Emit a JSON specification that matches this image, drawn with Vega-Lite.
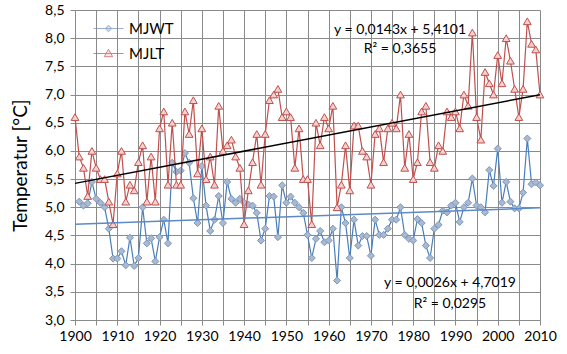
{
  "$schema": "https://vega.github.io/schema/vega-lite/v6.json",
  "width": 465,
  "height": 310,
  "autosize": {"type": "none"},
  "padding": {"left": 75, "top": 10, "right": 27, "bottom": 34},
  "background": "white",
  "config": {
    "font": "Lato",
    "view": {"stroke": null},
    "axis": {
      "gridColor": "#8a8a8a",
      "gridWidth": 1,
      "tickColor": "#8a8a8a",
      "domainColor": "#8a8a8a",
      "tickSize": 5,
      "labelColor": "black",
      "labelFontSize": 14,
      "labelFont": "Lato",
      "titleFont": "Lato",
      "titleColor": "black",
      "titleFontWeight": "normal"
    }
  },
  "datasets": {
    "temps": [
      {"year": 1900, "MJWT": null, "MJLT": 6.6},
      {"year": 1901, "MJWT": 5.1, "MJLT": 5.9},
      {"year": 1902, "MJWT": 5.03, "MJLT": 5.7},
      {"year": 1903, "MJWT": 5.07, "MJLT": 5.2},
      {"year": 1904, "MJWT": 5.45, "MJLT": 6.0},
      {"year": 1905, "MJWT": 5.15, "MJLT": 5.7},
      {"year": 1906, "MJWT": 5.08, "MJLT": 5.5},
      {"year": 1907, "MJWT": 5.0, "MJLT": 5.5},
      {"year": 1908, "MJWT": 4.62, "MJLT": 5.1},
      {"year": 1909, "MJWT": 4.09, "MJLT": 4.7},
      {"year": 1910, "MJWT": 4.09, "MJLT": 5.6},
      {"year": 1911, "MJWT": 4.22, "MJLT": 6.0},
      {"year": 1912, "MJWT": 3.97, "MJLT": 5.1},
      {"year": 1913, "MJWT": 4.46, "MJLT": 5.4},
      {"year": 1914, "MJWT": 3.96, "MJLT": 5.3},
      {"year": 1915, "MJWT": 4.1, "MJLT": 5.8},
      {"year": 1916, "MJWT": 5.0, "MJLT": 6.1},
      {"year": 1917, "MJWT": 4.36, "MJLT": 5.1},
      {"year": 1918, "MJWT": 4.45, "MJLT": 5.9},
      {"year": 1919, "MJWT": 4.04, "MJLT": 5.1},
      {"year": 1920, "MJWT": 4.47, "MJLT": 6.4},
      {"year": 1921, "MJWT": 4.78, "MJLT": 6.7},
      {"year": 1922, "MJWT": 4.36, "MJLT": 5.4},
      {"year": 1923, "MJWT": 5.79, "MJLT": 6.5},
      {"year": 1924, "MJWT": 5.63, "MJLT": 5.4},
      {"year": 1925, "MJWT": 5.65, "MJLT": 5.4},
      {"year": 1926, "MJWT": 5.96, "MJLT": 6.7},
      {"year": 1927, "MJWT": 5.79, "MJLT": 6.3},
      {"year": 1928, "MJWT": 5.16, "MJLT": 6.9},
      {"year": 1929, "MJWT": 4.72, "MJLT": 5.6},
      {"year": 1930, "MJWT": 5.73, "MJLT": 6.4},
      {"year": 1931, "MJWT": 5.03, "MJLT": 5.5},
      {"year": 1932, "MJWT": 4.58, "MJLT": 5.9},
      {"year": 1933, "MJWT": 4.78, "MJLT": 5.4},
      {"year": 1934, "MJWT": 5.2, "MJLT": 6.8},
      {"year": 1935, "MJWT": 4.72, "MJLT": 6.0},
      {"year": 1936, "MJWT": 5.45, "MJLT": 6.1},
      {"year": 1937, "MJWT": 5.15, "MJLT": 6.2},
      {"year": 1938, "MJWT": 5.08, "MJLT": 5.9},
      {"year": 1939, "MJWT": 5.15, "MJLT": 5.7},
      {"year": 1940, "MJWT": 5.08, "MJLT": 4.7},
      {"year": 1941, "MJWT": 5.05, "MJLT": 5.3},
      {"year": 1942, "MJWT": 5.03, "MJLT": 5.8},
      {"year": 1943, "MJWT": 4.9, "MJLT": 6.3},
      {"year": 1944, "MJWT": 4.41, "MJLT": 5.4},
      {"year": 1945, "MJWT": 4.62, "MJLT": 6.3},
      {"year": 1946, "MJWT": 5.2, "MJLT": 6.9},
      {"year": 1947, "MJWT": 5.19, "MJLT": 7.0},
      {"year": 1948, "MJWT": 4.47, "MJLT": 7.1},
      {"year": 1949, "MJWT": 5.39, "MJLT": 6.6},
      {"year": 1950, "MJWT": 5.08, "MJLT": 6.7},
      {"year": 1951, "MJWT": 5.19, "MJLT": 6.6},
      {"year": 1952, "MJWT": 5.08, "MJLT": 5.7},
      {"year": 1953, "MJWT": 5.0, "MJLT": 6.4},
      {"year": 1954, "MJWT": 4.9, "MJLT": 5.5},
      {"year": 1955, "MJWT": 4.51, "MJLT": 5.5},
      {"year": 1956, "MJWT": 4.1, "MJLT": 4.7},
      {"year": 1957, "MJWT": 4.44, "MJLT": 6.5},
      {"year": 1958, "MJWT": 4.58, "MJLT": 6.1},
      {"year": 1959, "MJWT": 4.38, "MJLT": 6.6},
      {"year": 1960, "MJWT": 4.41, "MJLT": 6.4},
      {"year": 1961, "MJWT": 4.62, "MJLT": 6.8},
      {"year": 1962, "MJWT": 3.7, "MJLT": 5.0},
      {"year": 1963, "MJWT": 5.0, "MJLT": 5.4},
      {"year": 1964, "MJWT": 4.72, "MJLT": 6.1},
      {"year": 1965, "MJWT": 4.1, "MJLT": 5.3},
      {"year": 1966, "MJWT": 4.78, "MJLT": 6.45},
      {"year": 1967, "MJWT": 4.32, "MJLT": 6.45},
      {"year": 1968, "MJWT": 4.49, "MJLT": 6.0},
      {"year": 1969, "MJWT": 4.49, "MJLT": 5.9},
      {"year": 1970, "MJWT": 4.14, "MJLT": 5.4},
      {"year": 1971, "MJWT": 4.78, "MJLT": 6.3},
      {"year": 1972, "MJWT": 4.51, "MJLT": 6.4},
      {"year": 1973, "MJWT": 4.51, "MJLT": 5.8},
      {"year": 1974, "MJWT": 4.62, "MJLT": 6.4},
      {"year": 1975, "MJWT": 4.78, "MJLT": 6.5},
      {"year": 1976, "MJWT": 4.78, "MJLT": 6.4},
      {"year": 1977, "MJWT": 5.0, "MJLT": 7.0},
      {"year": 1978, "MJWT": 4.51, "MJLT": 5.7},
      {"year": 1979, "MJWT": 4.44, "MJLT": 6.3},
      {"year": 1980, "MJWT": 4.41, "MJLT": 5.5},
      {"year": 1981, "MJWT": 4.79, "MJLT": 5.8},
      {"year": 1982, "MJWT": 4.72, "MJLT": 6.7},
      {"year": 1983, "MJWT": 4.32, "MJLT": 6.8},
      {"year": 1984, "MJWT": 4.1, "MJLT": 5.8},
      {"year": 1985, "MJWT": 4.62, "MJLT": 5.7},
      {"year": 1986, "MJWT": 4.69, "MJLT": 6.1},
      {"year": 1987, "MJWT": 4.94, "MJLT": 6.0},
      {"year": 1988, "MJWT": 4.91, "MJLT": 6.7},
      {"year": 1989, "MJWT": 5.03, "MJLT": 6.6},
      {"year": 1990, "MJWT": 5.08, "MJLT": 6.7},
      {"year": 1991, "MJWT": 4.74, "MJLT": 6.4},
      {"year": 1992, "MJWT": 5.0, "MJLT": 7.0},
      {"year": 1993, "MJWT": 5.08, "MJLT": 6.8},
      {"year": 1994, "MJWT": 5.51, "MJLT": 8.1},
      {"year": 1995, "MJWT": 5.03, "MJLT": 6.6},
      {"year": 1996, "MJWT": 5.0, "MJLT": 6.2},
      {"year": 1997, "MJWT": 4.91, "MJLT": 7.4},
      {"year": 1998, "MJWT": 5.66, "MJLT": 7.2},
      {"year": 1999, "MJWT": 5.38, "MJLT": 7.0},
      {"year": 2000, "MJWT": 6.04, "MJLT": 7.7},
      {"year": 2001, "MJWT": 5.08, "MJLT": 7.2},
      {"year": 2002, "MJWT": 5.45, "MJLT": 8.0},
      {"year": 2003, "MJWT": 5.1, "MJLT": 7.6},
      {"year": 2004, "MJWT": 4.98, "MJLT": 7.1},
      {"year": 2005, "MJWT": 4.98, "MJLT": 6.6},
      {"year": 2006, "MJWT": 5.26, "MJLT": 7.1},
      {"year": 2007, "MJWT": 6.22, "MJLT": 8.3},
      {"year": 2008, "MJWT": 5.41, "MJLT": 7.9},
      {"year": 2009, "MJWT": 5.44, "MJLT": 7.8},
      {"year": 2010, "MJWT": 5.39, "MJLT": 7.0}
    ],
    "trend": [
      {"year": 1900, "value": 5.424, "series": "MJLT"},
      {"year": 2010, "value": 6.997, "series": "MJLT"},
      {"year": 1900, "value": 4.70, "series": "MJWT"},
      {"year": 2010, "value": 4.99, "series": "MJWT"}
    ],
    "notes": [
      {"year": 1976.9, "value": 8.145, "label": "y = 0,0143x + 5,4101"},
      {"year": 1976.9, "value": 7.81, "label": "R² = 0,3655"},
      {"year": 1988.7, "value": 3.656, "label": "y = 0,0026x + 4,7019"},
      {"year": 1988.7, "value": 3.284, "label": "R² = 0,0295"}
    ]
  },
  "encoding": {
    "x": {
      "field": "year", "type": "quantitative",
      "scale": {"domain": [1900, 2010], "nice": false, "zero": false},
      "axis": {
        "title": null,
        "values": [1900, 1905, 1910, 1915, 1920, 1925, 1930, 1935, 1940, 1945, 1950, 1955, 1960, 1965, 1970, 1975, 1980, 1985, 1990, 1995, 2000, 2005, 2010],
        "format": "d",
        "labelExpr": "datum.value % 10 == 0 ? datum.label : ''",
        "labelFlush": false,
        "labelOverlap": false,
        "labelPadding": 4,
        "grid": true
      }
    },
    "y": {
      "field": "value", "type": "quantitative",
      "scale": {"domain": [3, 8.5], "nice": false, "zero": false},
      "axis": {
        "title": "Temperatur [°C]",
        "titleFontSize": 19,
        "titlePadding": 14,
        "values": [3, 3.5, 4, 4.5, 5, 5.5, 6, 6.5, 7, 7.5, 8, 8.5],
        "labelExpr": "replace(format(datum.value, '.1f'), '.', ',')",
        "labelOverlap": false,
        "labelPadding": 6,
        "grid": true
      }
    }
  },
  "layer": [
    {
      "data": {"name": "temps"},
      "transform": [
        {"fold": ["MJWT", "MJLT"], "as": ["series", "value"]},
        {"filter": "datum.series == 'MJWT' && datum.value != null"}
      ],
      "mark": {"type": "line", "color": "#4a7ebb", "strokeWidth": 1.2}
    },
    {
      "data": {"name": "temps"},
      "transform": [
        {"fold": ["MJWT", "MJLT"], "as": ["series", "value"]},
        {"filter": "datum.series == 'MJWT' && datum.value != null"}
      ],
      "mark": {"type": "point", "shape": "diamond", "filled": true, "fill": "#a9bad0", "stroke": "#7c97bd", "strokeWidth": 1, "size": 50, "opacity": 1}
    },
    {
      "data": {"name": "temps"},
      "transform": [
        {"fold": ["MJWT", "MJLT"], "as": ["series", "value"]},
        {"filter": "datum.series == 'MJLT' && datum.value != null"}
      ],
      "mark": {"type": "line", "color": "#c0504d", "strokeWidth": 1.2}
    },
    {
      "data": {"name": "temps"},
      "transform": [
        {"fold": ["MJWT", "MJLT"], "as": ["series", "value"]},
        {"filter": "datum.series == 'MJLT' && datum.value != null"}
      ],
      "mark": {"type": "point", "shape": "triangle-up", "filled": true, "fill": "#f4d0cf", "stroke": "#c0504d", "strokeWidth": 1, "size": 60, "opacity": 1}
    },
    {
      "data": {"name": "trend"},
      "transform": [{"filter": "datum.series == 'MJWT'"}],
      "mark": {"type": "line", "color": "#5b8ac6", "strokeWidth": 1.5}
    },
    {
      "data": {"name": "trend"},
      "transform": [{"filter": "datum.series == 'MJLT'"}],
      "mark": {"type": "line", "color": "#000000", "strokeWidth": 1.5}
    },
    {
      "data": {"name": "temps"},
      "transform": [
        {"fold": ["MJWT", "MJLT"], "as": ["series", "value"]},
        {"filter": "false"}
      ],
      "mark": {"type": "point", "filled": true, "strokeWidth": 1},
      "encoding": {
        "shape": {
          "field": "series", "type": "nominal",
          "scale": {"domain": ["MJWT", "MJLT"], "range": ["M-1.5,0H1.5M0,-0.33L0.33,0L0,0.33L-0.33,0Z", "M-1.5,0H1.5M0,-0.42L0.42,0.32L-0.42,0.32Z"]},
          "legend": {
            "orient": "none",
            "legendX": 23,
            "legendY": 8,
            "title": null,
            "padding": 0,
            "symbolSize": 400,
            "symbolStrokeWidth": 1,
            "labelFontSize": 15,
            "labelFont": "Lato",
            "labelColor": "black",
            "labelOffset": 10,
            "rowPadding": 6
          }
        },
        "fill": {
          "field": "series", "type": "nominal",
          "scale": {"domain": ["MJWT", "MJLT"], "range": ["#a9bad0", "#f4d0cf"]}
        },
        "stroke": {
          "field": "series", "type": "nominal",
          "scale": {"domain": ["MJWT", "MJLT"], "range": ["#6d8db8", "#c0504d"]}
        }
      }
    },
    {
      "data": {"name": "notes"},
      "mark": {"type": "text", "fontSize": 14, "font": "Lato", "color": "black", "align": "center", "baseline": "middle"},
      "encoding": {
        "text": {"field": "label", "type": "nominal"}
      }
    }
  ]
}
